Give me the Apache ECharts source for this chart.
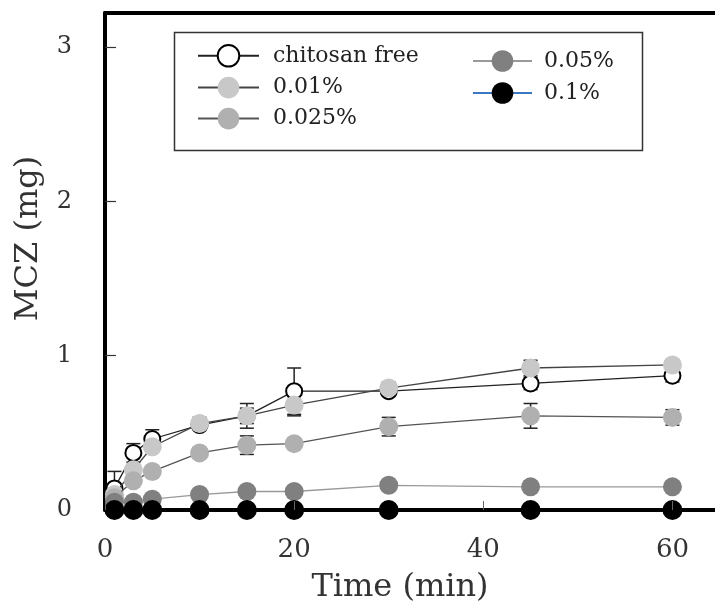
<!DOCTYPE html>
<html>
<head>
<meta charset="utf-8">
<script src="https://cdn.jsdelivr.net/npm/echarts@6/dist/echarts.min.js"></script>
<style>html,body{margin:0;padding:0;background:#fff;}#c{width:715px;height:609px;}</style>
</head>
<body>
<div id="c"></div>
<script>
var times = [1, 3, 5, 10, 15, 20, 30, 45, 60];
var seriesNames = ['chitosan free', '0.01%', '0.025%', '0.05%', '0.1%'];
var freeVals  = [0.14, 0.37, 0.46, 0.55, 0.61, 0.77, 0.77, 0.82, 0.87];
var c001Vals  = [0.10, 0.26, 0.41, 0.56, 0.61, 0.68, 0.79, 0.92, 0.94];
var c0025Vals = [0.08, 0.19, 0.25, 0.37, 0.42, 0.43, 0.54, 0.61, 0.60];
var c005Vals  = [0.05, 0.05, 0.07, 0.10, 0.12, 0.12, 0.16, 0.15, 0.15];
var c01Vals   = [0, 0, 0, 0, 0, 0, 0, 0, 0];
var freeErr   = [0.11, 0.06, 0.06, 0.03, 0.05, 0.15, 0.03, 0.04, 0.04];
var c001Err   = [0.03, 0.03, 0.03, 0.04, 0.08, 0.07, 0.04, 0.05, 0.03];
var c0025Err  = [0.02, 0.02, 0.02, 0.03, 0.06, 0.02, 0.06, 0.08, 0.05];
var c005Err   = [0.01, 0.01, 0.01, 0.01, 0.01, 0.01, 0.01, 0.01, 0.01];
var xTicks = [0, 20, 40, 60];
var yTicks = [0, 1, 2, 3];

var FONT = 'DejaVu Serif';
function pts(vals) { return times.map(function (t, i) { return [t, vals[i]]; }); }
function errPts(vals, errs) { return times.map(function (t, i) { return [t, vals[i], errs[i]]; }); }

function errSeries(name, vals, errs, z) {
  return {
    type: 'custom', name: name, z: z, silent: true,
    data: errPts(vals, errs),
    renderItem: function (params, api) {
      var x = api.value(0), y = api.value(1), e = api.value(2);
      var top = api.coord([x, y + e]), bot = api.coord([x, Math.max(0, y - e)]);
      var hw = 7, st = { stroke: '#222', lineWidth: 1.5 };
      return { type: 'group', children: [
        { type: 'line', shape: { x1: top[0], y1: top[1], x2: bot[0], y2: bot[1] }, style: st },
        { type: 'line', shape: { x1: top[0] - hw, y1: top[1], x2: top[0] + hw, y2: top[1] }, style: st },
        { type: 'line', shape: { x1: bot[0] - hw, y1: bot[1], x2: bot[0] + hw, y2: bot[1] }, style: st }
      ]};
    }
  };
}
function lineSeries(name, vals, color, lineColor, symbol, size, z) {
  return {
    type: 'line', name: name, data: pts(vals), z: z,
    symbol: symbol, symbolSize: size, showAllSymbol: true,
    itemStyle: { color: color, borderColor: symbol === 'emptyCircle' ? '#000' : color, borderWidth: symbol === 'emptyCircle' ? 2 : 0, opacity: 1 },
    lineStyle: { color: lineColor, width: 1.3 },
    emphasis: { disabled: true }
  };
}

var option = {
  animation: false,
  backgroundColor: '#fff',
  grid: { left: 105, right: 0, top: 13, bottom: 97 },
  xAxis: [{
    type: 'value', min: 0, max: 64.5, interval: 20,
    name: 'Time (min)', nameLocation: 'middle', nameGap: 62,
    nameTextStyle: { fontFamily: FONT, fontSize: 32, color: '#333', padding: [0, 20, 0, 0] },
    axisLine: { show: true, onZero: false, lineStyle: { color: '#000', width: 4 } },
    axisTick: { show: true, inside: true, length: 9, customValues: xTicks, lineStyle: { color: '#666', width: 1 } },
    axisLabel: { customValues: xTicks, margin: 27, fontFamily: FONT, fontSize: 26, color: '#333' },
    splitLine: { show: false }, z: 10
  }, {
    type: 'value', position: 'top', min: 0, max: 64.5,
    axisLine: { show: true, onZero: false, lineStyle: { color: '#000', width: 4 } },
    axisTick: { show: false }, axisLabel: { show: false }, splitLine: { show: false }
  }],
  yAxis: {
    type: 'value', min: 0, max: 3.22, interval: 1,
    name: 'MCZ (mg)', nameLocation: 'middle', nameGap: 60,
    nameTextStyle: { fontFamily: FONT, fontSize: 32, color: '#333', padding: [0, 0, 0, 46] },
    axisLine: { show: true, onZero: false, lineStyle: { color: '#000', width: 4 } },
    axisTick: { show: true, inside: true, length: 11, customValues: yTicks, lineStyle: { color: '#333', width: 1.2 } },
    axisLabel: { customValues: yTicks, margin: 33, fontFamily: FONT, fontSize: 24, color: '#333' },
    splitLine: { show: false }
  },
  legend: [{
    data: ['chitosan free', '0.01%', '0.025%'],
    orient: 'vertical', left: 192, top: 39, itemWidth: 61, itemHeight: 27, itemGap: 9,
    textStyle: { fontFamily: FONT, fontSize: 22, color: '#222', padding: [0, 0, 0, 9] }, selectedMode: false
  }, {
    data: ['0.05%', { name: '0.1%', lineStyle: { color: '#3a78c3' } }],
    orient: 'vertical', left: 467, top: 45, itemWidth: 59, itemHeight: 27, itemGap: 10,
    textStyle: { fontFamily: FONT, fontSize: 22, color: '#222', padding: [0, 0, 0, 7] }, selectedMode: false
  }],
  graphic: [{
    type: 'rect', left: 172, top: 30, z: 100, silent: true,
    shape: { width: 468, height: 118 },
    style: { fill: 'none', stroke: '#333', lineWidth: 1.5 }
  }],
  series: [
    errSeries('err-free', freeVals, freeErr, 1),
    errSeries('err-001', c001Vals, c001Err, 1),
    errSeries('err-0025', c0025Vals, c0025Err, 1),
    errSeries('err-005', c005Vals, c005Err, 1),
    lineSeries(seriesNames[0], freeVals, '#000', '#222', 'emptyCircle', 16, 2),
    lineSeries(seriesNames[1], c001Vals, '#c8c8c8', '#444', 'circle', 19, 3),
    lineSeries(seriesNames[2], c0025Vals, '#b0b0b0', '#555', 'circle', 19, 4),
    lineSeries(seriesNames[3], c005Vals, '#808080', '#999', 'circle', 19, 5),
    lineSeries(seriesNames[4], c01Vals, '#000', '#000', 'circle', 20, 6)
  ]
};
var chart = echarts.init(document.getElementById('c'), null, { renderer: 'canvas' });
chart.setOption(option);
</script>
</body>
</html>
